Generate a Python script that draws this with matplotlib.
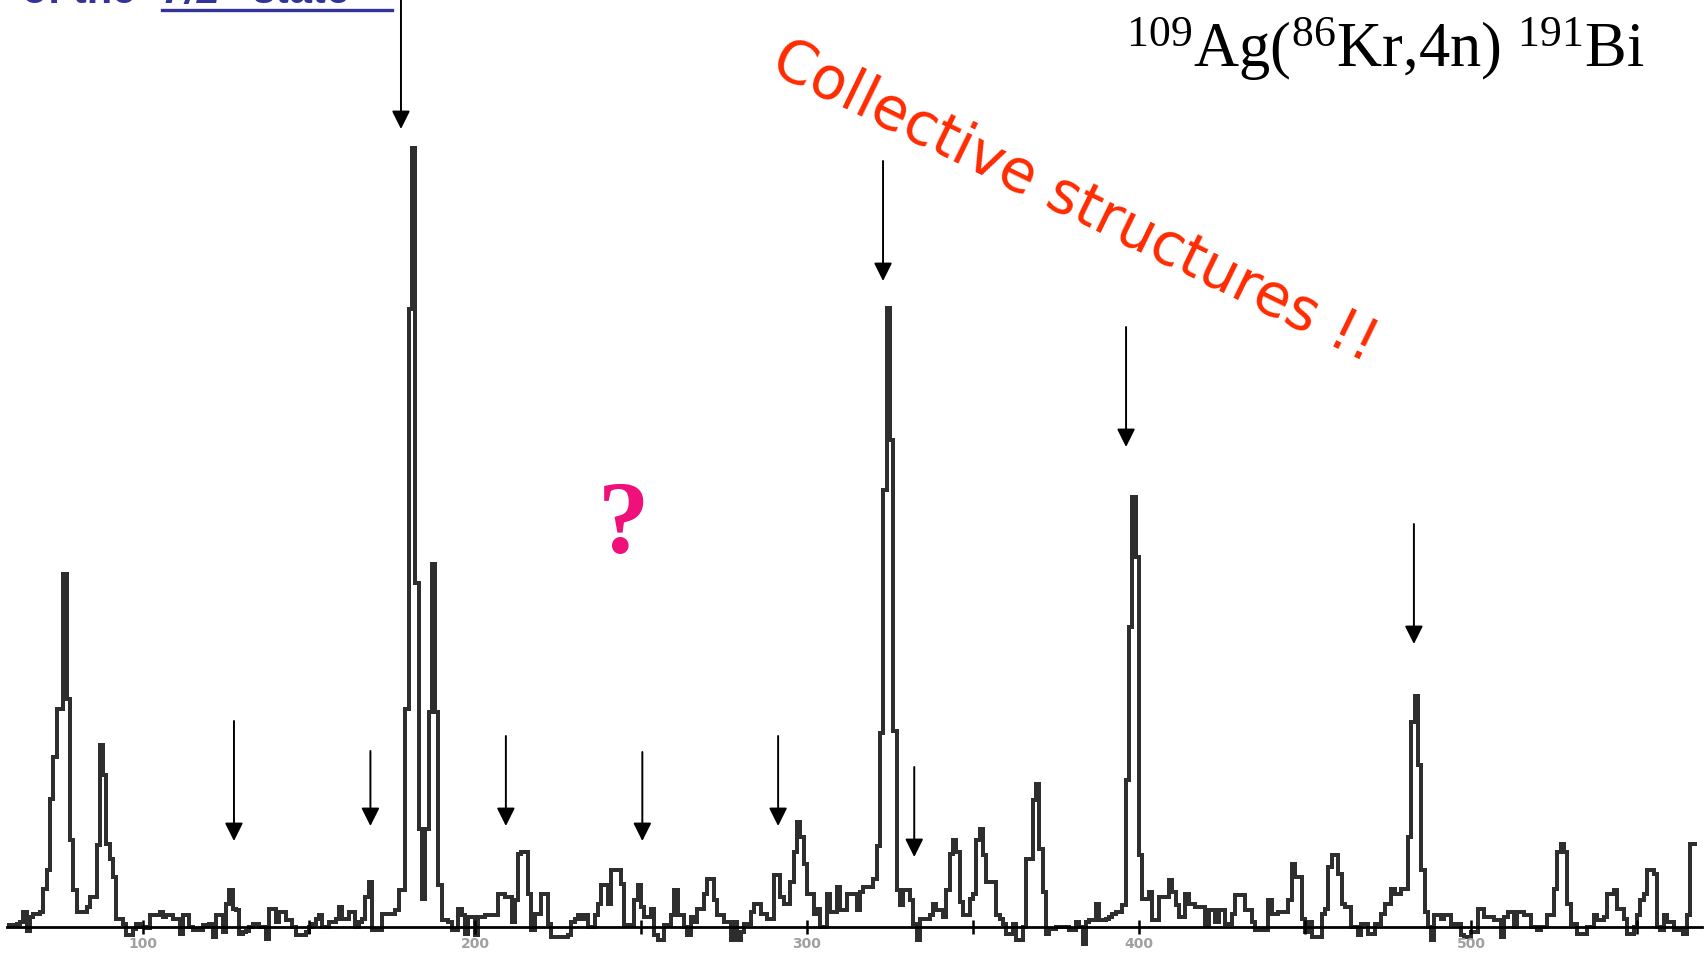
import matplotlib
matplotlib.use("Agg")
import matplotlib.pyplot as plt
import numpy as np

# Gamma-ray spectrum, 1 keV channels starting at 59 keV (counts in arbitrary units)
BIN_START = 59.0
BIN_WIDTH = 1.0
counts = [
    2, 2, 2, 3, 5, 15, -4, 10, 13, 13,
    15, 38, 57, 128, 170, 218, 218, 353, 228, 87,
    37, 15, 15, 15, 20, 30, 30, 82, 182, 152,
    83, 68, 50, 8, 8, 3, -8, -8, -2, 3,
    0, 0, -1, 12, 12, 12, 15, 10, 12, 12,
    8, 8, -7, 12, 12, 0, -3, -3, -3, 2,
    2, 3, -10, 12, 12, -5, 23, 37, 18, 17,
    -7, -5, -4, 0, 3, 3, 0, 0, -12, 18,
    18, 5, 15, 15, 7, 7, 0, -8, -8, -8,
    -5, 0, 3, 8, 12, 0, 0, 5, 5, 8,
    20, 8, 8, 15, 15, 0, 5, 8, 30, 45,
    -3, -3, -3, 13, 13, 13, 13, 17, 37, 37,
    218, 618, 779, 344, 98, 28, 98, 215, 363, 215,
    42, 7, 7, 5, -3, -3, 18, 12, -7, 10,
    10, -8, 10, 10, 12, 12, 12, 12, 33, 33,
    30, 30, 5, 27, 73, 75, 75, 33, -3, 13,
    13, 33, 33, 3, -10, -10, -10, -10, -10, -8,
    5, 8, 12, 8, 12, 0, 0, 12, 23, 42,
    42, 23, 57, 57, 57, 43, 2, 2, 2, 27,
    42, 20, 10, 10, 18, -8, -13, -13, 2, 2,
    12, 37, 12, 12, 0, -8, 10, 5, 18, 18,
    33, 48, 48, 27, 12, 12, 5, 5, -13, 5,
    -13, -5, 3, 3, 15, 23, 23, 13, 13, 8,
    8, 52, 52, 30, 23, 23, 45, 75, 105, 90,
    63, 33, 33, 13, 18, 0, 0, 33, 15, 15,
    40, 17, 17, 33, 33, 33, 17, 35, 40, 40,
    40, 48, 81, 194, 437, 619, 487, 196, 37, 22,
    37, 37, 27, 3, -13, 8, 8, 8, 12, 23,
    17, 17, 10, 37, 73, 87, 75, 25, 12, 12,
    28, 33, 87, 98, 72, 45, 45, 45, 12, 8,
    3, -7, -7, 3, -13, -13, 0, 68, 68, 127,
    143, 78, 35, -7, -2, -2, 0, 0, 0, 0,
    -3, -3, 5, 0, -17, 5, 7, 7, 23, 7,
    7, 8, 10, 13, 15, 15, 22, 147, 300, 430,
    370, 72, 28, 28, 35, 7, 7, 30, 30, 30,
    47, 35, 22, 10, 10, 33, 23, 23, 20, 20,
    20, 2, 17, 17, 5, 17, 17, 3, 3, 13,
    32, 32, 32, 17, 17, 5, -3, -3, -3, -3,
    27, 13, 13, 15, 15, 15, 27, 63, 50, 50,
    8, -5, 5, -10, -10, -10, 13, 18, 60, 72,
    72, 53, 23, 20, 20, 0, 0, -8, 3, 3,
    -7, -7, 3, 3, 13, 23, 23, 38, 33, 33,
    38, 38, 90, 205, 231, 162, 57, 15, 0, -13,
    12, 12, 8, 12, 12, 3, 3, 3, -8, -10,
    -10, -5, -5, 18, 18, 10, 10, 10, 7, 7,
    -10, 10, 15, 15, 0, 15, 15, 12, 12, 0,
    0, -3, 0, 0, 12, 12, 38, 75, 83, 75,
    23, 3, 3, -7, -7, -7, 0, 0, 12, 7,
    7, 10, 33, 33, 37, 18, 18, 8, -7, -7,
    0, 12, 27, 33, 57, 57, 53, 0, -3, 12,
    5, 5, -3, -3, -3, -7, 12, 83, 83,
]

# marked transitions: energy (keV), arrow tail and tip heights
big_arrow_e = [177.7, 322.9, 396.1, 482.8]
big_arrow_tail = [960, 766, 600, 403]
big_arrow_tip = [798, 646, 480, 283]

small_arrow_e = [127.4, 168.5, 209.3, 250.4, 291.3, 332.3]
small_arrow_tail = [206, 176, 191, 175, 191, 160]
small_arrow_tip = [86, 101, 101, 86, 101, 70]

major_ticks = [100, 200, 300, 400, 500]
minor_ticks = [150, 250, 350, 450, 550]

plt.rcParams["mathtext.fontset"] = "custom"
plt.rcParams["mathtext.rm"] = "Liberation Serif"
plt.rcParams["mathtext.it"] = "Liberation Serif:italic"

fig = plt.figure(figsize=(17.08, 9.57), dpi=100)
ax = fig.add_axes([0, 0, 1, 1])
ax.set_xlim(56.93, 571.38)
ax.set_ylim(-30, 927)

edges = BIN_START + BIN_WIDTH * np.arange(len(counts) + 1)
ax.stairs(counts, edges, baseline=None, color="#2e2e2e", linewidth=1.7,
          antialiased=False)

# axis line sitting on zero counts
for side in ("top", "left", "right"):
    ax.spines[side].set_visible(False)
ax.spines["bottom"].set_position(("data", 0))
ax.spines["bottom"].set_bounds(BIN_START, 569.5)
ax.spines["bottom"].set_linewidth(2.0)
ax.spines["bottom"].set_zorder(1)
ax.set_yticks([])
ax.set_xticks(major_ticks)
ax.set_xticks(minor_ticks, minor=True)
ax.set_xticklabels([str(t) for t in major_ticks])
ax.tick_params(axis="x", which="both", direction="inout", length=10, width=1.8,
               color="black", labelsize=10, labelcolor="#a0a0a0", pad=2)
for lab in ax.get_xticklabels():
    lab.set_fontweight("bold")

arrow_kw = dict(arrowstyle="-|>,head_length=1.1,head_width=0.55",
                color="black", lw=1.4, shrinkA=0, shrinkB=0, mutation_scale=10)
for e, t0, t1 in zip(big_arrow_e + small_arrow_e,
                     big_arrow_tail + small_arrow_tail,
                     big_arrow_tip + small_arrow_tip):
    ax.annotate("", xy=(e, t1), xytext=(e, t0), arrowprops=arrow_kw,
                annotation_clip=False)

fig.text(0.963, 0.9295, r"$^{109}$Ag($^{86}$Kr,4n) $^{191}$Bi",
         ha="right", va="baseline", fontsize=45, family="Liberation Serif")

fig.text(0.629, 0.789, "Collective structures !!", color="#ff2a00",
         fontsize=42, family="DejaVu Sans", rotation=-26,
         rotation_mode="anchor", ha="center", va="center")

fig.text(0.365, 0.448, "?", color="#f0107a", fontsize=74, fontweight="bold",
         family="Liberation Serif", ha="center", va="center")

# heading line from the slide above, only its lower edge shows
fig.text(0.079, 0.9965, "of the", color="#333399", fontsize=30,
         fontweight="bold", family=["Liberation Sans", "DejaVu Sans"],
         ha="right", va="baseline")
fig.text(0.095, 0.9965, "7/2\u207b state", color="#333399", fontsize=30,
         fontweight="bold", style="italic",
         family=["Liberation Sans", "DejaVu Sans"], ha="left", va="baseline")
fig.add_artist(plt.Line2D([0.095, 0.2295], [0.9895, 0.9895],
                          color="#333399", lw=2.4, transform=fig.transFigure))

fig.savefig("out.png", dpi=100)
